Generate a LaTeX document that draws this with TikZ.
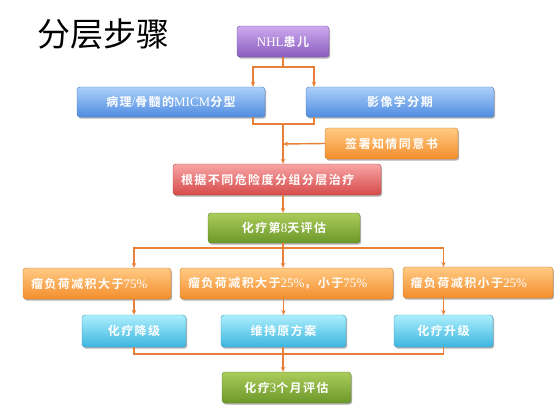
\documentclass[tikz,border=0pt]{standalone}
\usepackage{fontspec}
\setmainfont{Noto Sans CJK SC}
\newfontfamily\cjkb[LetterSpace=12]{Noto Sans CJK SC Bold}
\newfontfamily\lat[LetterSpace=0]{Liberation Serif}
\newcommand{\la}[1]{{\lat\fontsize{13}{14}\selectfont #1}}
\usetikzlibrary{shadows,arrows.meta,calc}
\definecolor{lnc}{RGB}{232,128,58}
\definecolor{pT}{RGB}{205,170,238}\definecolor{pB}{RGB}{138,92,192}
\definecolor{bT}{RGB}{172,208,250}\definecolor{bB}{RGB}{80,140,224}
\definecolor{oT}{RGB}{255,202,132}\definecolor{oB}{RGB}{244,142,44}
\definecolor{rT}{RGB}{248,165,165}\definecolor{rB}{RGB}{214,74,74}
\definecolor{gT}{RGB}{170,204,90}\definecolor{gB}{RGB}{108,152,42}
\definecolor{cT}{RGB}{172,238,252}\definecolor{cB}{RGB}{60,182,224}
\tikzset{
  box/.style={rounded corners=3pt, inner sep=0pt, font=\cjkb\fontsize{12}{14}\selectfont,
    text=white, draw=#1B!85!black, line width=0.4pt,
    top color=#1T, bottom color=#1B,
    drop shadow={shadow xshift=1.2pt, shadow yshift=-1.6pt, opacity=0.3, fill=black}},
  lbox/.style={box=#1, align=left},
  arr/.style={draw=lnc, line width=1.4pt, -{Stealth[length=5pt,width=4.5pt]}},
  ln/.style={draw=lnc, line width=1.4pt},
}
\begin{document}
\begin{tikzpicture}[x=1pt,y=-1pt]
\useasboundingbox (0,0) rectangle (554,415);
\node[anchor=west, inner sep=0pt, font=\fontsize{33}{36}\selectfont] (title) at (37,34) {分层步骤};
\node[box=p, minimum width=92, minimum height=31] (nhl) at (283,41.5) {\la{NHL}患儿};
\node[box=b, minimum width=188, minimum height=30] (bl) at (171,102) {病理\la{/}骨髓的\la{MICM}分型};
\node[box=b, minimum width=188, minimum height=30] (br) at (400,102) {影像学分期};
\node[box=o, minimum width=133, minimum height=31] (cons) at (391.5,143.5) {签署知情同意书};
\node[lbox=r, text width=192, inner xsep=8pt, minimum height=31] (red) at (277,179.5) {\mbox{根据不同危险度分组分层治疗}};
\node[box=g, minimum width=152, minimum height=30] (g8) at (284,228) {化疗第\la{8}天评估};
\node[lbox=o, text width=132, inner xsep=8pt, minimum height=31] (ol) at (97,283.5) {\mbox{瘤负荷减积大于\la{75\%}}};
\node[lbox=o, text width=197, inner xsep=8pt, minimum height=31] (om) at (286.5,283.5) {\mbox{瘤负荷减积大于\la{25\%}，小于\la{75\%}}};
\node[lbox=o, text width=135, inner xsep=7.5pt, minimum height=31] (or) at (478,282.5) {\mbox{瘤负荷减积小于\la{25\%}}};
\node[box=c, minimum width=104, minimum height=32] (cl) at (134,331) {化疗降级};
\node[box=c, minimum width=125, minimum height=32] (cm) at (283.5,331) {维持原方案};
\node[box=c, minimum width=99, minimum height=32] (cr) at (443.5,331) {化疗升级};
\node[box=g, minimum width=129, minimum height=31] (g3) at (286.5,387.5) {化疗\la{3}个月评估};
% coordinates
\coordinate (xa) at (253,0);
\coordinate (xb) at (314,0);
\coordinate (j1) at (283,67);
\coordinate (j2) at (283,124);
\coordinate (j3) at (283,144);
\coordinate (j4) at (283,248);
\coordinate (j5) at (283,354);
% top split
\draw[ln] (nhl.south -| j1) -- (j1);
\draw[arr] (j1) -| (xa |- bl.north);
\draw[arr] (j1) -| (xb |- br.north);
% merge
\draw[ln] (xa |- bl.south) |- (j2);
\draw[ln] (xb |- br.south) |- (j2);
\draw[arr] (j2) -- (red.north -| j2);
\draw[arr] (cons.west) -- (j3);
\draw[arr] (red.south -| j2) -- (g8.north -| j2);
% second split
\draw[ln] (g8.south -| j4) -- (j4);
\draw[arr] (j4) -| (cl.north |- ol.north);
\draw[arr] (j4) -- (om.north -| j4);
\draw[arr] (j4) -| (cr.north |- or.north);
\draw[arr] (cl.north |- ol.south) -- (cl.north);
\draw[arr] (cm.north |- om.south) -- (cm.north);
\draw[arr] (cr.north |- or.south) -- (cr.north);
% merge
\draw[ln] (cl.south) |- (j5);
\draw[ln] (cr.south) |- (j5);
\draw[arr] (cm.south -| j5) -- (g3.north -| j5);
\end{tikzpicture}
\end{document}
